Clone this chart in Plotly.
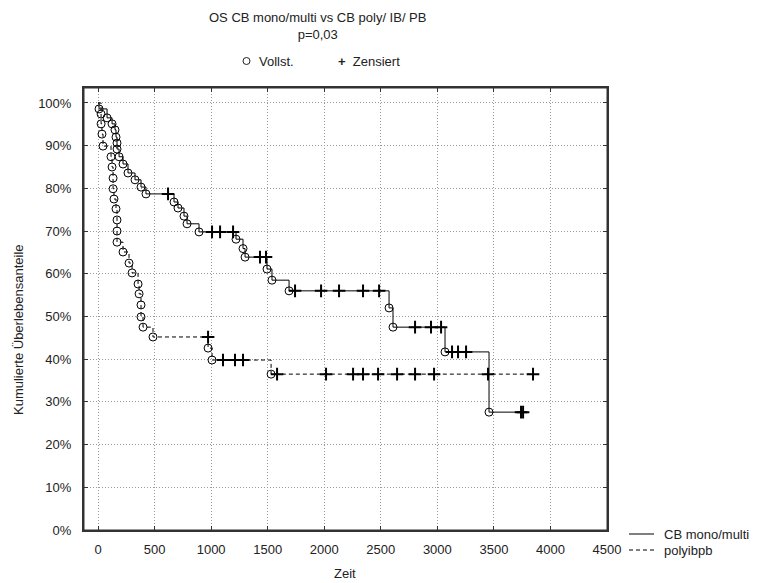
import plotly.graph_objects as go

# ---------------- data ----------------
mono_event_t = [9, 80, 124, 150, 159, 168, 168, 186, 221, 265, 327, 380, 424,
                672, 707, 760, 787, 893, 1220, 1282, 1300, 1494, 1538, 1689,
                2573, 2608, 3068, 3457]
mono_event_s = [0.986, 0.965, 0.951, 0.937, 0.920, 0.906, 0.892, 0.874, 0.857,
                0.836, 0.820, 0.803, 0.787, 0.768, 0.754, 0.735, 0.717, 0.698,
                0.681, 0.659, 0.639, 0.611, 0.585, 0.560, 0.520, 0.475, 0.417,
                0.276]
mono_cens_t = [619, 1008, 1079, 1194, 1432, 1485, 1742, 1972, 2131, 2343, 2485,
               2803, 2944, 3033, 3130, 3183, 3254, 3740, 3758]

poly_event_t = [27, 27, 35, 44, 115, 124, 133, 133, 141, 159, 168, 168, 168,
                221, 274, 301, 354, 363, 380, 380, 398, 486, 973, 1008, 1530]
poly_event_s = [0.974, 0.951, 0.927, 0.899, 0.874, 0.850, 0.824, 0.799, 0.775,
                0.752, 0.726, 0.700, 0.674, 0.651, 0.625, 0.602, 0.576, 0.553,
                0.527, 0.499, 0.475, 0.452, 0.426, 0.398, 0.365]
poly_cens_t = [973, 1105, 1211, 1282, 1583, 2016, 2255, 2343, 2476, 2644, 2803,
               2971, 3448, 3846]

series_names = ["CB mono/multi", "polyibpb"]
x_ticks = [0, 500, 1000, 1500, 2000, 2500, 3000, 3500, 4000, 4500]
y_ticks = [0, 0.1, 0.2, 0.3, 0.4, 0.5, 0.6, 0.7, 0.8, 0.9, 1.0]

title_text = "OS CB mono/multi vs CB poly/ IB/ PB<br>p=0,03"


def km_curve(ev_t, ev_s, cens_t):
    """Merge events and censored times into a step curve; return
    line points and the survival level at each censored time."""
    pts = [(t, s, False) for t, s in zip(ev_t, ev_s)]
    pts += [(t, None, True) for t in cens_t]
    pts.sort(key=lambda p: (p[0], 0 if p[2] else 1, -(p[1] or 0)))
    lx, ly = [0], [1.0]
    cur = 1.0
    cx, cy = [], []
    for t, s, c in pts:
        if c:
            cx.append(t)
            cy.append(cur)
            lx.append(t)
            ly.append(cur)
        else:
            cur = s
            lx.append(t)
            ly.append(s)
    return lx, ly, cx, cy


FONT = "Liberation Sans, Arial, sans-serif"
fig = go.Figure()

for name, ev_t, ev_s, cens_t, dash in [
    (series_names[0], mono_event_t, mono_event_s, mono_cens_t, "solid"),
    (series_names[1], poly_event_t, poly_event_s, poly_cens_t, "4px,3px"),
]:
    lx, ly, cx, cy = km_curve(ev_t, ev_s, cens_t)
    fig.add_trace(go.Scatter(x=lx, y=ly, mode="lines", name=name,
                             line=dict(color="black", width=1, shape="hv", dash=dash),
                             showlegend=False))
    fig.add_trace(go.Scatter(x=ev_t, y=ev_s, mode="markers", name=name + " Vollst.",
                             marker=dict(symbol="circle-open", size=8, color="black",
                                         line=dict(width=1, color="black")),
                             showlegend=False))
    fig.add_trace(go.Scatter(x=cx, y=cy, mode="markers", name=name + " Zensiert",
                             marker=dict(symbol="cross-thin-open", size=9, color="black",
                                         line=dict(width=2, color="black")),
                             showlegend=False))

# page body has an 8px margin: work in page pixels, then subtract it
OFF = 8
FIG_W, FIG_H = 770 - OFF, 583 - OFF
L, R, T, B = 84 - OFF, 607 - OFF, 88 - OFF, 530 - OFF
W, H = R - L, B - T


def px(x):
    return (x - OFF - L) / W


def py(y):
    return (B - (y - OFF)) / H


def txt(text, x, y, anchor="left", angle=0):
    return dict(text=text, x=px(x), y=py(y), xref="paper", yref="paper",
                xanchor=anchor, yanchor="middle", showarrow=False, textangle=angle,
                font=dict(size=13, color="#222", family=FONT))


ann = [
    txt(title_text, 317, 26, "center"),
    txt("Vollst.", 257, 61),
    txt("<b>+</b>  Zensiert", 336, 61),
    txt("Kumulierte Überlebensanteile", 18, 330, "center", -90),
    txt("Zeit", 345, 573, "center"),
    txt(series_names[0], 662, 534),
    txt(series_names[1], 662, 550),
]

shapes = [
    dict(type="circle", xref="paper", yref="paper", x0=px(243), x1=px(250),
         y0=py(64.5), y1=py(57.5), line=dict(color="#222", width=1)),
    dict(type="line", xref="paper", yref="paper", x0=px(629), x1=px(654),
         y0=py(534), y1=py(534), line=dict(color="black", width=1)),
    dict(type="line", xref="paper", yref="paper", x0=px(629), x1=px(654),
         y0=py(550), y1=py(550), line=dict(color="black", width=1, dash="4px,3px")),
    dict(type="rect", xref="paper", yref="paper", x0=0, x1=1, y0=0, y1=1,
         line=dict(color="#333", width=1), layer="above"),
]

fig.update_layout(
    width=FIG_W, height=FIG_H,
    margin=dict(l=L, r=FIG_W - R, t=T, b=FIG_H - B),
    paper_bgcolor="white", plot_bgcolor="white",
    font=dict(family=FONT, size=13, color="#222"),
    annotations=ann, shapes=shapes, showlegend=False,
)
fig.update_xaxes(range=[-124, 4500], tickvals=x_ticks, ticktext=[str(v) for v in x_ticks],
                 showgrid=True, gridcolor="#999", griddash="1px,2px", gridwidth=1,
                 showline=True, linecolor="#333", linewidth=2, zeroline=False,
                 ticks="inside", ticklen=4, tickcolor="#333", mirror="ticks",
                 ticklabelstandoff=6, tickfont=dict(size=13, family=FONT))
fig.update_yaxes(range=[0, 1.035], tickvals=y_ticks,
                 ticktext=[f"{int(round(v*100))}%" for v in y_ticks],
                 showgrid=True, gridcolor="#999", griddash="1px,2px", gridwidth=1,
                 showline=True, linecolor="#333", linewidth=2, zeroline=False,
                 ticks="inside", ticklen=4, tickcolor="#333", mirror="ticks",
                 ticklabelstandoff=8, tickfont=dict(size=13, family=FONT))

fig.write_html("out.html")
